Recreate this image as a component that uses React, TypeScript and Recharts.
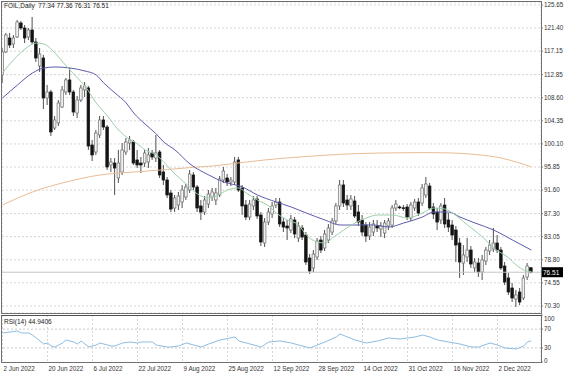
import React from 'react'
import { ComposedChart, Bar, Line, XAxis, YAxis, CartesianGrid, ReferenceLine } from 'recharts'

// FOIL daily candles, 2 Jun - mid Dec 2022
const opens = [112.78, 117.01, 119.58, 118.48, 119.77, 122.34, 121.42, 119.77, 121.05, 118.85, 114.43, 115.90, 108.55, 109.65, 103.03, 103.95, 106.89, 109.65, 111.86, 109.65, 105.79, 108.18, 110.02, 110.39, 99.90, 98.62, 101.74, 104.50, 103.21, 96.23, 96.59, 93.84, 94.94, 98.62, 100.27, 100.46, 97.15, 96.59, 96.59, 96.78, 98.43, 97.51, 98.62, 94.94, 93.47, 91.08, 88.32, 88.87, 89.42, 90.34, 91.63, 94.39, 92.18, 88.69, 87.58, 89.05, 90.34, 89.79, 90.71, 93.47, 93.84, 93.10, 93.10, 97.15, 92.00, 88.87, 86.66, 88.69, 89.97, 87.03, 81.88, 85.74, 87.22, 88.87, 89.42, 85.74, 85.01, 84.27, 86.11, 82.80, 84.64, 83.35, 79.12, 77.29, 79.31, 82.43, 80.96, 82.43, 83.90, 85.93, 88.69, 92.55, 89.79, 88.69, 89.61, 87.58, 86.11, 85.19, 83.17, 83.90, 85.01, 84.46, 83.72, 85.01, 85.19, 88.32, 88.50, 88.35, 88.50, 86.48, 88.32, 89.42, 89.24, 90.71, 92.36, 88.50, 87.58, 86.11, 88.87, 86.11, 85.19, 84.27, 81.88, 78.20, 79.31, 80.59, 77.29, 78.20, 76.55, 78.57, 80.41, 80.78, 81.88, 80.59, 77.65, 75.45, 73.61, 71.58, 72.87, 71.77, 75.63, 77.34]
const highs = [117.74, 120.50, 120.50, 120.13, 122.89, 122.71, 121.97, 121.42, 123.44, 119.58, 117.74, 116.46, 110.94, 110.02, 105.24, 108.18, 110.75, 112.23, 114.06, 110.02, 108.92, 110.94, 111.49, 110.75, 100.83, 102.66, 105.24, 105.24, 103.58, 97.51, 97.51, 98.99, 100.27, 101.19, 101.56, 100.83, 98.99, 97.70, 98.99, 99.35, 98.99, 101.74, 98.99, 96.23, 94.02, 91.63, 90.71, 91.26, 92.55, 92.73, 95.31, 94.94, 92.55, 89.79, 90.53, 91.63, 92.00, 92.00, 94.20, 95.86, 94.57, 94.02, 97.70, 97.70, 92.55, 89.79, 89.79, 90.53, 90.53, 87.58, 86.48, 88.32, 89.42, 90.16, 90.16, 86.48, 86.11, 87.03, 86.66, 85.74, 85.19, 83.90, 79.86, 80.59, 82.80, 83.17, 84.27, 85.38, 86.48, 89.24, 93.47, 93.47, 90.71, 90.71, 90.53, 88.87, 87.03, 85.74, 85.74, 86.11, 86.11, 85.74, 86.11, 86.48, 88.87, 89.79, 88.80, 88.87, 89.05, 89.42, 89.97, 90.16, 92.73, 94.02, 92.92, 89.24, 88.32, 89.24, 90.16, 87.40, 86.11, 85.01, 82.80, 81.51, 82.80, 81.33, 79.12, 79.12, 79.68, 81.15, 82.43, 84.64, 83.35, 81.15, 78.39, 76.37, 74.53, 73.24, 73.61, 76.00, 78.20, 77.36]
const lows = [111.31, 116.82, 117.74, 117.74, 119.58, 121.05, 118.66, 119.21, 118.48, 115.17, 113.33, 106.53, 107.26, 101.56, 102.66, 103.40, 106.71, 109.10, 109.10, 105.24, 104.87, 107.81, 108.73, 98.99, 96.96, 98.07, 101.19, 102.66, 95.31, 94.94, 90.71, 92.92, 94.39, 98.07, 98.99, 96.23, 95.67, 94.76, 95.86, 95.67, 97.15, 96.78, 93.84, 92.55, 90.16, 87.58, 87.58, 87.95, 88.32, 89.79, 91.08, 91.63, 87.58, 86.11, 87.03, 88.32, 89.61, 88.87, 90.34, 92.92, 92.36, 92.36, 92.55, 91.26, 87.03, 86.11, 86.11, 87.95, 86.30, 81.33, 81.15, 85.19, 86.48, 88.32, 84.82, 83.90, 82.43, 83.72, 82.80, 82.07, 82.43, 77.84, 76.18, 76.55, 78.76, 80.04, 80.41, 81.88, 83.35, 85.38, 87.95, 88.50, 87.95, 87.95, 86.48, 85.01, 83.17, 82.07, 82.43, 83.17, 83.90, 82.98, 82.80, 84.27, 84.64, 87.77, 88.10, 87.77, 86.11, 85.93, 87.77, 86.85, 88.69, 90.16, 87.95, 86.30, 84.27, 85.38, 84.64, 83.90, 82.43, 78.39, 75.45, 76.00, 78.39, 77.29, 76.55, 75.63, 75.08, 77.84, 79.68, 80.23, 80.04, 76.92, 74.16, 72.32, 71.03, 70.11, 70.48, 71.40, 75.08, 76.31]
const closes = [117.01, 120.13, 118.29, 119.58, 122.52, 121.42, 119.58, 121.05, 118.85, 115.90, 116.64, 108.55, 109.65, 102.30, 104.50, 107.63, 110.02, 111.86, 109.65, 105.97, 108.18, 110.39, 110.75, 99.72, 98.07, 102.11, 104.50, 103.21, 95.86, 96.78, 95.67, 96.59, 98.99, 100.46, 100.83, 96.59, 96.23, 96.23, 98.43, 98.07, 97.70, 98.43, 94.39, 93.47, 90.71, 88.13, 90.16, 90.53, 91.63, 92.18, 94.57, 92.18, 88.32, 87.58, 89.79, 90.89, 91.26, 91.08, 93.65, 95.12, 93.10, 93.47, 96.78, 91.63, 88.69, 86.66, 89.05, 89.79, 86.85, 82.07, 85.74, 87.58, 88.69, 89.42, 85.38, 84.82, 84.64, 86.30, 83.54, 85.01, 82.98, 78.39, 76.73, 79.86, 82.25, 80.59, 83.54, 84.64, 85.93, 88.69, 92.55, 89.24, 88.87, 89.97, 86.85, 85.74, 83.90, 83.17, 84.82, 85.38, 84.64, 85.01, 85.56, 85.93, 88.32, 89.05, 88.40, 88.30, 86.66, 88.87, 89.42, 87.40, 92.00, 92.73, 88.32, 87.22, 85.74, 88.69, 85.38, 84.82, 83.35, 81.51, 78.39, 79.68, 80.59, 78.02, 78.39, 76.55, 78.76, 80.59, 81.51, 81.88, 80.59, 77.29, 74.71, 72.87, 71.77, 72.32, 71.03, 75.45, 77.65, 76.51]

// moving averages and RSI(14), read at sample bars: [bar, value]
const maFast = [[0, 113.15], [3, 115.6], [6, 117.56], [9, 118.66], [11, 118.48], [14, 116.82], [17, 114.43], [20, 112.23], [22, 110.75], [25, 107.63], [28, 105.24], [30, 103.4], [33, 101.38], [36, 100.09], [38, 98.99], [41, 98.07], [44, 96.04], [46, 94.57], [49, 92.73], [52, 90.89], [55, 90.16], [57, 90.53], [60, 91.63], [63, 92.0], [65, 91.08], [68, 89.79], [71, 88.69], [73, 87.4], [76, 86.11], [79, 85.19], [81, 83.35], [84, 82.07], [86, 81.88], [88, 82.8], [91, 84.27], [94, 85.56], [97, 86.48], [100, 87.03], [104, 87.03], [108, 86.48], [112, 87.4], [115, 88.32], [118, 88.13], [120, 87.4], [124, 85.19], [128, 82.98], [131, 80.96], [135, 79.12], [137, 77.84], [139, 76.92], [141, 76.6]]
const maSlow = [[0, 108.55], [4, 110.94], [8, 113.15], [11, 114.06], [14, 114.25], [18, 114.06], [22, 113.51], [25, 112.78], [27, 111.31], [30, 109.47], [33, 107.63], [35, 105.79], [38, 103.77], [41, 101.93], [43, 100.46], [46, 98.99], [50, 96.41], [55, 94.39], [59, 93.1], [64, 92.18], [68, 90.71], [73, 89.42], [77, 88.5], [81, 87.4], [86, 86.11], [90, 85.19], [95, 85.19], [99, 85.19], [103, 84.82], [107, 85.56], [112, 86.66], [115, 87.58], [119, 87.58], [122, 86.66], [126, 85.56], [131, 84.27], [136, 82.43], [141, 80.59]]
const ma200 = [[0, 88.87], [8, 91.26], [17, 93.1], [26, 94.39], [35, 94.94], [44, 95.4], [52, 95.86], [56, 96.04], [65, 96.78], [74, 97.42], [83, 97.88], [92, 98.25], [101, 98.43], [113, 98.5], [120, 98.43], [126, 98.16], [133, 97.51], [137, 96.78], [141, 95.9]]
const rsi = [[0, 61.7], [2, 63.8], [4, 66.0], [5, 61.7], [7, 61.7], [8, 57.4], [9, 51.1], [11, 38.3], [12, 40.4], [13, 34.0], [14, 31.9], [16, 40.4], [17, 46.8], [19, 42.6], [20, 38.3], [21, 44.7], [23, 31.9], [25, 36.2], [26, 40.4], [27, 38.3], [29, 34.0], [30, 34.0], [32, 40.4], [34, 42.6], [36, 40.4], [37, 42.6], [40, 42.6], [41, 36.2], [44, 31.9], [45, 31.9], [47, 34.0], [49, 40.4], [51, 36.2], [53, 31.9], [55, 38.3], [58, 46.8], [60, 50.0], [62, 53.2], [63, 44.7], [66, 38.3], [69, 31.9], [71, 42.6], [74, 44.7], [77, 40.4], [79, 36.2], [82, 29.8], [84, 36.2], [86, 42.6], [89, 53.2], [90, 59.6], [92, 53.2], [94, 46.8], [97, 40.4], [100, 44.7], [103, 51.1], [106, 48.9], [108, 51.1], [110, 53.2], [112, 57.4], [114, 53.2], [116, 46.8], [119, 42.6], [122, 38.3], [125, 31.9], [127, 31.9], [130, 40.4], [132, 36.2], [134, 29.8], [137, 27.7], [139, 34.0], [140, 42.6], [141, 44.94]]

const dateTickIdx = [0, 12, 24, 36, 48, 60, 72, 84, 96, 108, 120, 132]
const dateTickLabels = ['2 Jun 2022', '20 Jun 2022', '6 Jul 2022', '22 Jul 2022', '9 Aug 2022', '25 Aug 2022', '12 Sep 2022', '28 Sep 2022', '14 Oct 2022', '31 Oct 2022', '16 Nov 2022', '2 Dec 2022']
const priceTicks = [125.65, 121.4, 117.15, 112.85, 108.6, 104.35, 100.1, 95.85, 91.6, 87.3, 83.05, 78.8, 74.55, 70.3]
const rsiTicks = [0, 30, 70, 100]
const lastPrice = 76.51

const FONT = '"Liberation Sans", Arial, sans-serif'
const xDomain = [-0.13, 143.6]

const rows = opens.map((o, i) => ({
  i, o, h: highs[i], l: lows[i], c: closes[i],
  range: [lows[i], highs[i]],
  fast: null as number | null, slow: null as number | null, ma200: null as number | null, rsi: null as number | null,
}))
maFast.forEach(([k, v]) => { rows[k].fast = v })
maSlow.forEach(([k, v]) => { rows[k].slow = v })
ma200.forEach(([k, v]) => { rows[k].ma200 = v })
rsi.forEach(([k, v]) => { rows[k].rsi = v })

function Candle(props: any) {
  const { x, y, width, height, payload } = props
  if (!payload || height == null) return null
  const { o, h, l, c } = payload
  const top = Math.min(y, y + height)
  const full = Math.abs(height)
  const py = (v: number) => top + ((h - v) / (h - l)) * full
  const cx = x + width / 2
  const bTop = py(Math.max(o, c))
  const bBot = py(Math.min(o, c))
  const up = c >= o
  const bw = 2.6
  return (
    <g>
      <line x1={cx} x2={cx} y1={top} y2={top + full} stroke="#505050" strokeWidth={1} />
      <rect x={cx - bw / 2} y={bTop} width={bw} height={Math.max(bBot - bTop, 0.8)}
        fill={up ? '#f2f2f2' : '#141414'} stroke={up ? '#707070' : '#141414'} strokeWidth={0.7} />
    </g>
  )
}

function PriceTag(props: any) {
  const vb = props.viewBox
  if (!vb) return null
  const x = vb.x + vb.width
  return (
    <g>
      <rect x={x} y={vb.y - 5} width={22} height={10} fill="#000" />
      <text x={x + 2} y={vb.y + 2.5} fontSize={6.5} fill="#fff" fontFamily={FONT}>{lastPrice.toFixed(2)}</text>
    </g>
  )
}

function DateTick(props: any) {
  const { x, y, payload } = props
  const k = dateTickIdx.indexOf(payload.value)
  return (
    <text x={x + 1} y={y} dy={9} textAnchor="start" fontSize={6.3} fill="#333" fontFamily={FONT}>
      {dateTickLabels[k]}
    </text>
  )
}

// RSI scale labels: the top one is pushed inside the panel as in the terminal
function RsiTick(props: any) {
  const { x, y, payload } = props
  const shift = payload.value === 100 ? 4 : payload.value === 0 ? -1 : 0
  return (
    <g>
      <line x1={x - 3} x2={x - 1} y1={y} y2={y} stroke="#808080" />
      <text x={x} y={y + shift} dy={2.2} textAnchor="start" fontSize={6.3} fill="#333" fontFamily={FONT}>
        {payload.value}
      </text>
    </g>
  )
}

const tickStyle = { fontSize: 6.3, fill: '#333', fontFamily: FONT }

export default function App() {
  return (
    <div style={{ position: 'absolute', left: 0, top: 0, width: 564, height: 376, background: '#fff', fontFamily: FONT }}>
      <div style={{ position: 'absolute', left: 0, top: 0 }}>
        <ComposedChart width={564} height={313} data={rows} margin={{ top: 2, right: 0, bottom: 0, left: 2 }}>
          <CartesianGrid stroke="#d6d6d6" strokeDasharray="2 2" />
          <XAxis dataKey="i" type="number" domain={xDomain} allowDataOverflow ticks={dateTickIdx}
            height={0} tick={false} axisLine={false} tickLine={false} />
          <YAxis orientation="right" width={23} domain={[69.01, 126.2]} allowDataOverflow ticks={priceTicks}
            interval={0} tick={tickStyle} tickSize={2} tickMargin={1} axisLine={false}
            tickLine={{ stroke: '#808080' }} tickFormatter={(v: number) => v.toFixed(2)} />
          <ReferenceLine y={lastPrice} stroke="#c4c4c4" label={<PriceTag />} />
          <Bar dataKey="range" barSize={3} shape={<Candle />} isAnimationActive={false} />
          <Line dataKey="ma200" type="monotone" connectNulls stroke="#e8bc96" strokeWidth={1} dot={false} activeDot={false} isAnimationActive={false} />
          <Line dataKey="slow" type="monotone" connectNulls stroke="#5c5cac" strokeWidth={1} dot={false} activeDot={false} isAnimationActive={false} />
          <Line dataKey="fast" type="monotone" connectNulls stroke="#9ccfaa" strokeWidth={1} dot={false} activeDot={false} isAnimationActive={false} />
        </ComposedChart>
      </div>
      <div style={{ position: 'absolute', left: 0, top: 313 }}>
        <ComposedChart width={564} height={63} data={rows} margin={{ top: 2, right: 0, bottom: 0, left: 2 }}>
          <CartesianGrid horizontal={false} stroke="#d6d6d6" strokeDasharray="2 2" />
          <XAxis dataKey="i" type="number" domain={xDomain} allowDataOverflow ticks={dateTickIdx} interval={0}
            height={14} tick={<DateTick />} tickSize={0} tickMargin={0} axisLine={false} tickLine={false} />
          <YAxis orientation="right" width={23} domain={[0, 100]} allowDataOverflow ticks={rsiTicks} interval={0}
            tick={<RsiTick />} tickSize={3} tickMargin={0} axisLine={false} tickLine={false} />
          <ReferenceLine y={70} stroke="#c8c8c8" strokeDasharray="2 2" />
          <ReferenceLine y={30} stroke="#c8c8c8" strokeDasharray="2 2" />
          <Line dataKey="rsi" type="linear" connectNulls stroke="#8cbde2" strokeWidth={1} dot={false} activeDot={false} isAnimationActive={false} />
        </ComposedChart>
      </div>
      <div style={{ position: 'absolute', left: 1, top: 1, width: 541, height: 313, boxSizing: 'border-box', border: '1px solid #707070', pointerEvents: 'none' }} />
      <div style={{ position: 'absolute', left: 1, top: 315, width: 541, height: 48, boxSizing: 'border-box', border: '1px solid #707070', borderTop: '1px solid #505050', pointerEvents: 'none' }} />
      <div style={{ position: 'absolute', left: 4, top: 2, fontSize: 6.5, color: '#222', whiteSpace: 'pre', lineHeight: '8px' }}>
        FOIL,Daily  77.34 77.36 76.31 76.51
      </div>
      <div style={{ position: 'absolute', left: 4, top: 318, fontSize: 6.5, color: '#222', whiteSpace: 'pre', lineHeight: '8px' }}>
        RSI(14) 44.9406
      </div>
    </div>
  )
}
